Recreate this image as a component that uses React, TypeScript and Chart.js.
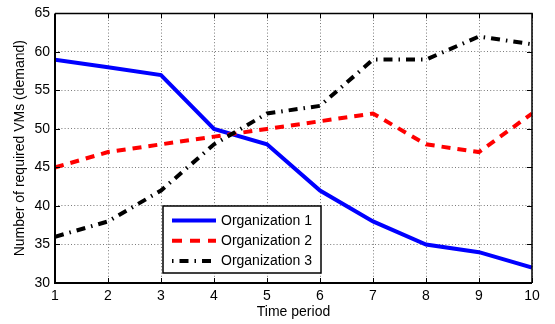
import React, { useEffect, useRef } from "react";
import { Chart, registerables } from "chart.js";

Chart.register(...registerables);

const periods = [1, 2, 3, 4, 5, 6, 7, 8, 9, 10];
const org1 = [59, 58, 57, 50, 48, 42, 38, 35, 34, 32];
const org2 = [45, 47, 48, 49, 50, 51, 52, 48, 47, 52];
const org3 = [36, 38, 42, 48, 52, 53, 59, 59, 62, 61];
const seriesNames = ["Organization 1", "Organization 2", "Organization 3"];
const xTitle = "Time period";
const yTitle = "Number of required VMs (demand)";

const FONT = '"Liberation Sans", Arial, Helvetica, sans-serif';

const boxPlugin = {
  id: "matlabBox",
  afterDraw(chart: any) {
    const { ctx, chartArea } = chart;
    const { left, right, top, bottom } = chartArea;
    const xs = chart.scales.x;
    const ys = chart.scales.y;
    ctx.save();
    ctx.strokeStyle = "#000";
    ctx.setLineDash([]);
    // inward ticks
    ctx.lineWidth = 1;
    const tl = 5;
    ctx.beginPath();
    xs.ticks.forEach((t: any) => {
      const px = Math.round(xs.getPixelForValue(t.value)) + 0.5;
      ctx.moveTo(px, bottom);
      ctx.lineTo(px, bottom - tl);
      ctx.moveTo(px, top);
      ctx.lineTo(px, top + tl);
    });
    ys.ticks.forEach((t: any) => {
      const py = Math.round(ys.getPixelForValue(t.value)) + 0.5;
      ctx.moveTo(left, py);
      ctx.lineTo(left + tl, py);
      ctx.moveTo(right, py);
      ctx.lineTo(right - tl, py);
    });
    ctx.stroke();
    // box
    ctx.lineWidth = 2;
    ctx.beginPath();
    ctx.moveTo(left, top);
    ctx.lineTo(left, bottom);
    ctx.lineTo(right, bottom);
    ctx.stroke();
    ctx.lineWidth = 1.5;
    ctx.beginPath();
    ctx.moveTo(left, top);
    ctx.lineTo(right, top);
    ctx.lineTo(right, bottom);
    ctx.stroke();

    // legend
    const bx = left + 108;
    const by = bottom - 77;
    const bw = 158;
    const bh = 67;
    ctx.fillStyle = "#fff";
    ctx.fillRect(bx, by, bw, bh);
    ctx.lineWidth = 1.5;
    ctx.strokeRect(bx, by, bw, bh);
    chart.data.datasets.forEach((ds: any, i: number) => {
      const cy = by + 14.5 + i * 20.3;
      ctx.save();
      ctx.strokeStyle = ds.borderColor;
      ctx.lineWidth = ds.borderWidth;
      ctx.lineCap = "butt";
      ctx.setLineDash(ds.legendDash || []);
      ctx.beginPath();
      ctx.moveTo(bx + 9, cy);
      ctx.lineTo(bx + 53, cy);
      ctx.stroke();
      ctx.restore();
      ctx.fillStyle = "#000";
      ctx.font = `14px ${FONT}`;
      ctx.textBaseline = "middle";
      ctx.textAlign = "left";
      ctx.fillText(ds.label, bx + 58, cy + 0.5);
    });
    ctx.restore();
  },
};

export default function App() {
  const ref = useRef<HTMLCanvasElement | null>(null);
  useEffect(() => {
    if (!ref.current) return;
    const mk = (arr: number[]) => arr.map((v, i) => ({ x: periods[i], y: v }));
    const chart = new Chart(ref.current, {
      type: "line",
      data: {
        datasets: [
          {
            label: seriesNames[0],
            data: mk(org1),
            borderColor: "#0000ff",
            borderWidth: 4,
            pointRadius: 0,
            borderDash: [],
            order: 3,
            legendDash: [],
          } as any,
          {
            label: seriesNames[1],
            data: mk(org2),
            borderColor: "#ff0000",
            borderWidth: 4,
            pointRadius: 0,
            borderDash: [9, 7],
            order: 2,
            legendDash: [10, 8],
          } as any,
          {
            label: seriesNames[2],
            data: mk(org3),
            borderColor: "#000000",
            borderWidth: 4,
            pointRadius: 0,
            borderDash: [9, 6, 1.5, 6],
            order: 1,
            legendDash: [1.5, 6, 9, 6],
          } as any,
        ],
      },
      options: {
        animation: false,
        responsive: false,
        maintainAspectRatio: false,
        layout: { padding: { left: 0, top: 8, right: 23, bottom: 0 } },
        plugins: { legend: { display: false }, tooltip: { enabled: false } },
        elements: { line: { tension: 0, borderCapStyle: "butt", borderJoinStyle: "miter" } },
        scales: {
          x: {
            type: "linear",
            min: 1,
            max: 10,
            ticks: {
              stepSize: 1,
              color: "#000",
              padding: 5,
              font: { family: FONT, size: 14 },
              maxRotation: 0,
            },
            grid: { color: "#7a7a7a", drawTicks: false, lineWidth: 1 },
            border: { display: false, dash: [1, 2.2] },
            title: {
              display: true,
              text: xTitle,
              color: "#000",
              font: { family: FONT, size: 14 },
              padding: { top: 0, bottom: 3 },
            },
            afterFit(scale: any) {
              scale.height = 41;
            },
          },
          y: {
            type: "linear",
            min: 30,
            max: 65,
            ticks: {
              stepSize: 5,
              color: "#000",
              padding: 5,
              font: { family: FONT, size: 14 },
            },
            grid: { color: "#7a7a7a", drawTicks: false, lineWidth: 1 },
            border: { display: false, dash: [1, 2.2] },
            title: {
              display: true,
              text: yTitle,
              color: "#000",
              font: { family: FONT, size: 14 },
              padding: { top: 12, bottom: 0 },
            },
            afterFit(scale: any) {
              scale.width = 55;
            },
          },
        },
      } as any,
      plugins: [boxPlugin],
    });
    return () => chart.destroy();
  }, []);
  return (
    <div style={{ position: "absolute", left: 0, top: 0, width: 555, height: 324, background: "#fff" }}>
      <canvas ref={ref} width={555} height={324} style={{ display: "block" }} />
    </div>
  );
}
